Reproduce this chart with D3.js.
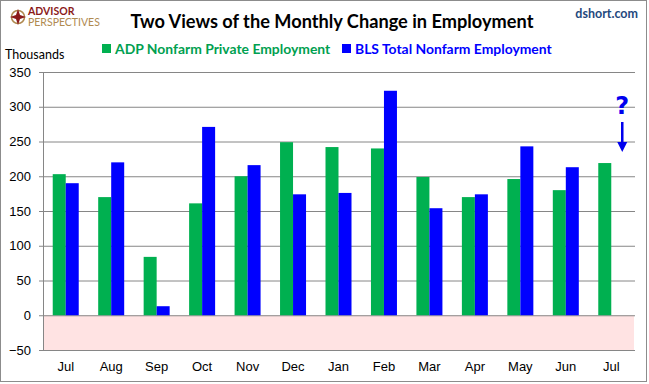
<!DOCTYPE html>
<html>
<head>
<meta charset="utf-8">
<script src="https://cdn.jsdelivr.net/npm/d3@7"></script>
<style>
  body { margin: 0; background: #fff; }
  svg { font-family: Lato, "Open Sans", sans-serif; display: block; }
</style>
</head>
<body>
<script>
// data
var months = ["Jul", "Aug", "Sep", "Oct", "Nov", "Dec", "Jan", "Feb", "Mar", "Apr", "May", "Jun", "Jul"];
var adp = [203, 170, 84, 161, 200, 249, 242, 240, 199, 170, 196, 180, 219];
var bls = [190, 220, 13, 271, 216, 174, 176, 323, 154, 174, 243, 213, null];
var yTicks = [-50, 0, 50, 100, 150, 200, 250, 300, 350];

var width = 649, height = 384;
var plotLeft = 43, plotRight = 634, plotTop = 72, plotBottom = 350;

var svg = d3.select("body").append("svg")
  .attr("width", width)
  .attr("height", height);

// outer frame
svg.append("rect")
  .attr("x", 0.5).attr("y", 0.5)
  .attr("width", width - 3).attr("height", height - 3)
  .attr("fill", "#fff").attr("stroke", "#8c8c8c");

var x = d3.scaleBand().domain(d3.range(months.length)).range([plotLeft, plotRight]);
var y = d3.scaleLinear().domain([-50, 350]).range([plotBottom, plotTop]);
var barW = 13;

// negative zone
svg.append("rect")
  .attr("x", plotLeft).attr("width", plotRight - plotLeft)
  .attr("y", y(0)).attr("height", y(-50) - y(0))
  .attr("fill", "#ffe3e3");

// gridlines + y axis
var yAxis = d3.axisLeft(y).tickValues(yTicks).tickSize(0).tickPadding(12);
var gy = svg.append("g")
  .attr("transform", "translate(" + plotLeft + ",0)")
  .call(yAxis);
gy.select(".domain").remove();
gy.selectAll(".tick line").attr("stroke", "#868686").attr("x1", -4).attr("x2", plotRight - plotLeft + 1);
gy.selectAll(".tick text").attr("font-size", 13).attr("fill", "#000");

svg.append("line")
  .attr("x1", plotLeft + 0.5).attr("x2", plotLeft + 0.5)
  .attr("y1", y(350)).attr("y2", y(-50))
  .attr("stroke", "#868686");

// bars
svg.append("g").selectAll("rect")
  .data(adp)
  .enter().append("rect")
  .attr("x", function(d, i) { return x(i) + x.bandwidth() / 2 - barW; })
  .attr("width", barW)
  .attr("y", function(d) { return y(d); })
  .attr("height", function(d) { return y(0) - y(d); })
  .attr("fill", "#00b050");

svg.append("g").selectAll("rect")
  .data(bls.map(function(v, i) { return { v: v, i: i }; }).filter(function(d) { return d.v != null; }))
  .enter().append("rect")
  .attr("x", function(d) { return x(d.i) + x.bandwidth() / 2; })
  .attr("width", barW)
  .attr("y", function(d) { return y(d.v); })
  .attr("height", function(d) { return y(0) - y(d.v); })
  .attr("fill", "#0000ff");

// x axis labels
var xAxis = d3.axisBottom(x).tickSize(0).tickPadding(12).tickFormat(function(i) { return months[i]; });
var gx = svg.append("g")
  .attr("transform", "translate(0," + y(-50) + ")")
  .call(xAxis);
gx.select(".domain").remove();
gx.selectAll(".tick text").attr("font-size", 13).attr("fill", "#000");

// title and labels
svg.append("text")
  .attr("x", 332).attr("y", 28)
  .attr("text-anchor", "middle")
  .attr("font-size", 18.2).attr("font-weight", "bold")
  .text("Two Views of the Monthly Change in Employment");

svg.append("text")
  .attr("x", 5).attr("y", 59)
  .attr("font-size", 12.5)
  .text("Thousands");

svg.append("text")
  .attr("x", 638).attr("y", 18)
  .attr("text-anchor", "end")
  .attr("font-size", 12.5).attr("font-weight", "bold")
  .attr("fill", "#1f497d")
  .text("dshort.com");

// legend
var legend = [
  { label: "ADP Nonfarm Private Employment", color: "#00b050", text: "#00a050", x: 102 },
  { label: "BLS Total Nonfarm Employment", color: "#0000ff", text: "#0000ff", x: 342 }
];
var lg = svg.selectAll(".lg").data(legend).enter().append("g")
  .attr("transform", function(d) { return "translate(" + d.x + ",44)"; });
lg.append("rect").attr("width", 9).attr("height", 9).attr("fill", function(d) { return d.color; });
lg.append("text").attr("x", 13).attr("y", 10)
  .attr("font-size", 13.9).attr("font-weight", "bold")
  .attr("fill", function(d) { return d.text; })
  .text(function(d) { return d.label; });

// logo
var logo = svg.append("g").attr("transform", "translate(18,17)");
logo.append("circle").attr("r", 6.5).attr("fill", "none").attr("stroke", "#b08a50").attr("stroke-width", 1.5);
logo.append("path").attr("d", "M0,-8 L2,-2 L8,0 L2,2 L0,8 L-2,2 L-8,0 L-2,-2 Z").attr("fill", "#8b1a1a");
svg.append("text").attr("x", 28).attr("y", 15)
  .attr("font-size", 10.5).attr("font-weight", "bold").attr("fill", "#8b1a1a")
  .text("ADVISOR");
svg.append("text").attr("x", 28).attr("y", 26)
  .attr("font-size", 10.5).attr("fill", "#b08a50")
  .text("PERSPECTIVES");

// question mark and arrow over the last month
var qx = x(12) + x.bandwidth() / 2 + 11;
svg.append("text")
  .attr("x", qx).attr("y", 114)
  .attr("text-anchor", "middle")
  .attr("font-size", 24).attr("font-weight", "bold")
  .attr("fill", "#0000ee")
  .attr("font-family", "DejaVu Sans")
  .text("?");
svg.append("line")
  .attr("x1", qx).attr("x2", qx).attr("y1", 122).attr("y2", 146)
  .attr("stroke", "#0000ee").attr("stroke-width", 2.5);
svg.append("path")
  .attr("d", "M" + (qx - 5) + ",142 L" + (qx + 5) + ",142 L" + qx + ",152 Z")
  .attr("fill", "#0000ee");
</script>
</body>
</html>
